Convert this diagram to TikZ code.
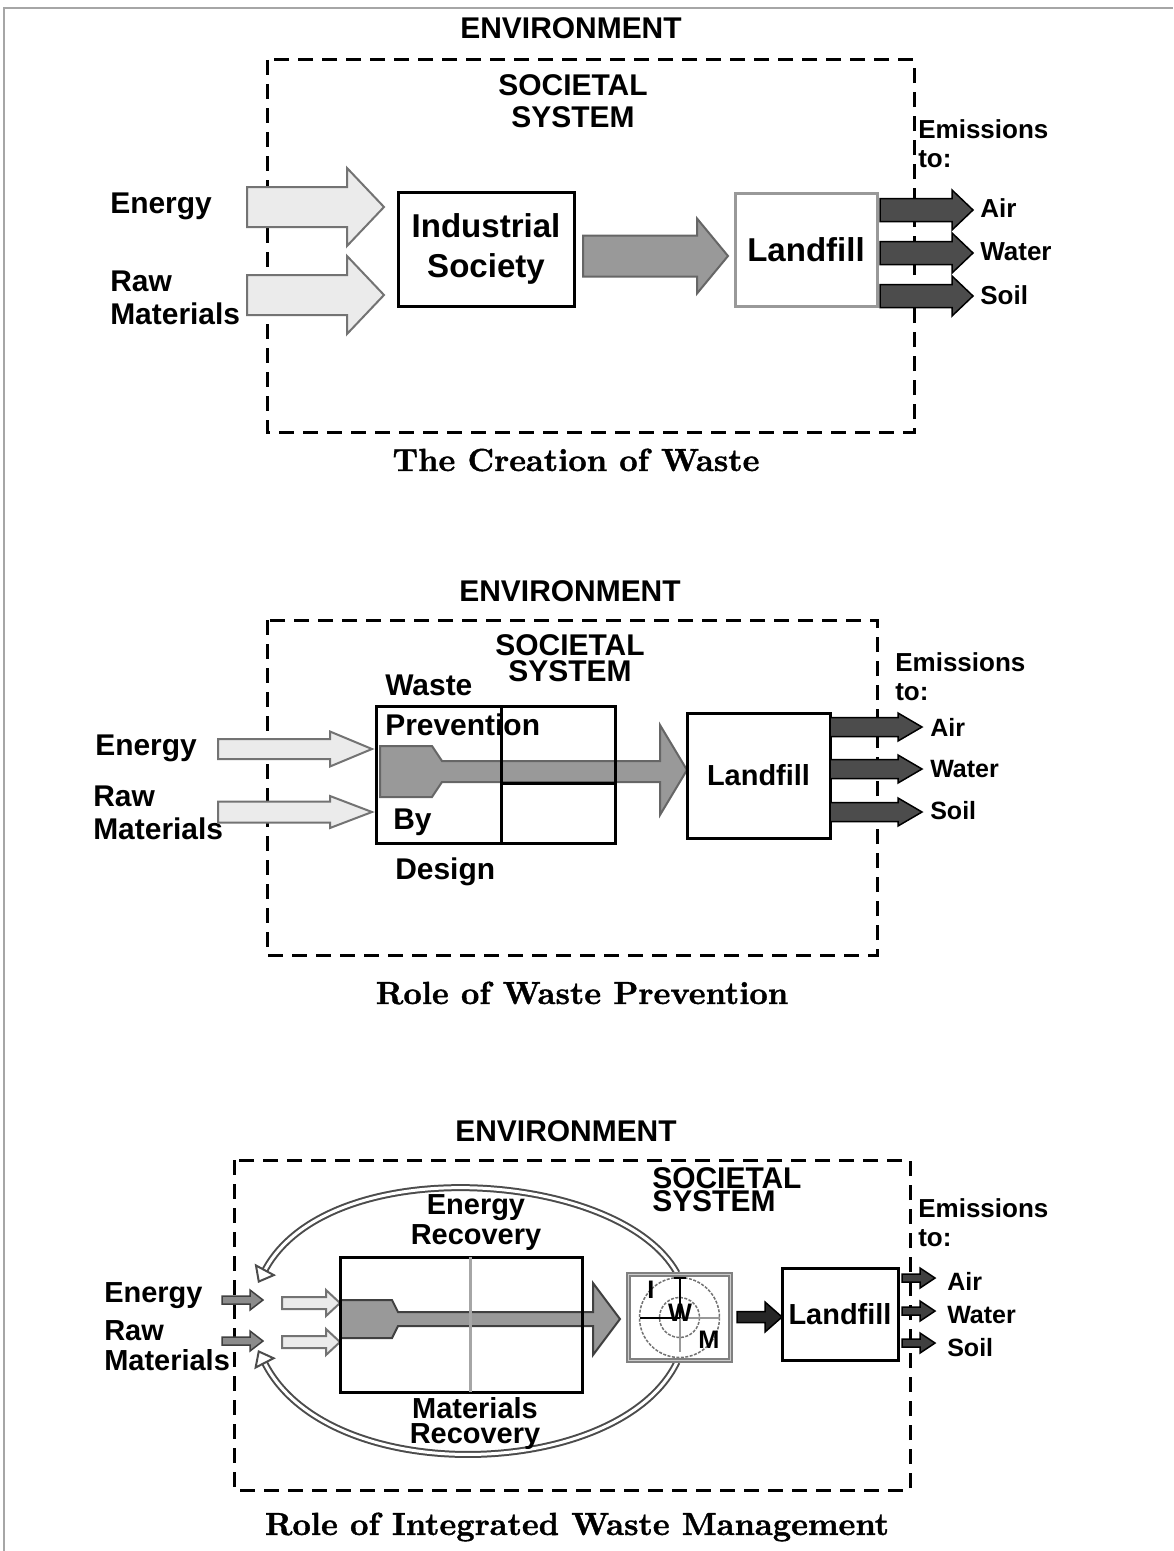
\documentclass[tikz,border=0pt]{standalone}
\usepackage{fontspec}
\usepackage{tikz}
\usetikzlibrary{arrows.meta, positioning, calc}
\newfontfamily\labelfont{Liberation Sans}
\newfontfamily\captionfont{lmroman10-bold.otf}[FakeBold=1.2]
\newdimen\px \px=0.025cm
% block arrow: [style]{x start}{x head base}{x tip}{y}{shaft half}{head half}
\newcommand{\blockarrow}[7][]{%
  \draw[#1] (#2,#5-#6) -- (#3,#5-#6) -- (#3,#5-#7) -- (#4,#5)
    -- (#3,#5+#7) -- (#3,#5+#6) -- (#2,#5+#6) -- cycle;}
\tikzset{
  ws label/.style={
    font=\labelfont\bfseries\fontsize{21.3}{23.5}\selectfont,
    inner sep=0pt, align=left
  },
  ws title/.style={
    ws label, align=center
  },
  ws emis/.style={
    font=\labelfont\bfseries\fontsize{18.5}{20.6}\selectfont,
    inner sep=0pt, align=left, anchor=west
  },
  ws caption/.style={
    font=\captionfont\fontsize{22.7}{26}\selectfont, inner sep=0pt
  },
  ws box/.style={
    rectangle, draw=black, line width=3\px, align=center, inner sep=0pt,
    font=\labelfont\bfseries\fontsize{20.6}{23}\selectfont
  },
  ws boundary/.style={
    line width=3\px, dash pattern=on 15\px off 9\px
  },
  light arrow/.style={fill=black!8, draw=black!55, line width=2\px},
  mid arrow/.style={fill=black!40, draw=black!60, line width=2\px},
  dark arrow/.style={fill=black!70, draw=black, line width=1.5\px},
  small arrow/.style={fill=black!45, draw=black!75, line width=1.5\px},
  recovery/.style={
    draw=black!70, line width=2\px, double=white, double distance=3\px,
    -{Triangle[open, length=11pt, width=17pt]}
  },
  frame line/.style={draw=black!35, line width=2\px}
}

\begin{document}
\begin{tikzpicture}[x=0.025cm, y=-0.025cm]
  \useasboundingbox (0,0) rectangle (1173,1551);
  \draw[frame line] (4,1551) -- (4,8) -- (1173,8);

  %% the creation of waste
  \node (env1) [ws title] at (571,28) {ENVIRONMENT};
  \draw[ws boundary] (267,60) rectangle (914,432);
  \node (soc1) [ws title, font=\labelfont\bfseries\fontsize{21.3}{22.8}\selectfont] at (573,101) {SOCIETAL\\SYSTEM};
  \node (energy1) [ws label, anchor=west] at (110,206) {Energy};
  \node (raw1) [ws label, anchor=west] at (110,297.5) {Raw\\Materials};
  \blockarrow[light arrow]{247}{347}{384}{207}{20}{39}
  \blockarrow[light arrow]{247}{347}{384}{295}{20}{39}
  \node (ind1) [ws box, minimum width=176\px, minimum height=114\px,
    font=\labelfont\bfseries\fontsize{23.5}{28.5}\selectfont] at (486,249) {Industrial\\Society};
  \blockarrow[mid arrow]{583}{697}{728}{256}{20.5}{37.5}
  \node (land1) [ws box, draw=black!40, minimum width=142\px, minimum height=113\px,
    font=\labelfont\bfseries\fontsize{23.5}{28}\selectfont] at (806,249.5) {Landfill};
  \foreach \yy in {210,253,296}
    \blockarrow[dark arrow]{880}{952}{973}{\yy}{11.5}{20};
  \node (emis1) [ws emis] at (918,143.5) {Emissions\\to:};
  \node (air1) [ws emis] at (980,208) {Air};
  \node (water1) [ws emis] at (980,252) {Water};
  \node (soil1) [ws emis] at (980,295) {Soil};
  \node (cap1) [ws caption] at (576,460) {The Creation of Waste};

  %% role of waste prevention
  \node (env2) [ws title] at (570,591) {ENVIRONMENT};
  \draw[ws boundary] (267,620) rectangle (877,955);
  \node (soc2) [ws title, font=\labelfont\bfseries\fontsize{21.3}{18.5}\selectfont] at (570,658) {SOCIETAL\\SYSTEM};
  \node (energy2) [ws label, anchor=west] at (95,748) {Energy};
  \node (raw2) [ws label, anchor=west] at (93,812.5) {Raw\\Materials};
  \blockarrow[light arrow]{218}{330}{372}{749}{10}{17.5}
  \blockarrow[light arrow]{218}{330}{372}{812}{10.5}{16}
  \draw[mid arrow] (380,746) -- (432,746) -- (442,761) -- (660,761) -- (660,725)
    -- (687,770) -- (660,815) -- (660,782) -- (442,782) -- (432,797) -- (380,797) -- cycle;
  \node (prev) [ws box, minimum width=239\px, minimum height=137\px] at (495.5,774.5) {};
  \draw[line width=3\px] (501,706) -- (501,843);
  \draw[line width=3\px] (501,783) -- (615,783);
  \node (waste2) [ws label, anchor=west] at (385,685) {Waste};
  \node (preven2) [ws label, anchor=west] at (385,725) {Prevention};
  \node (by2) [ws label, anchor=west] at (393,822) {By};
  \node (design2) [ws label, anchor=west] at (395,872) {Design};
  \node (land2) [ws box, minimum width=143\px, minimum height=125\px] at (758.5,775.5) {Landfill};
  \foreach \yy in {727,769,812}
    \blockarrow[dark arrow]{830}{898}{922}{\yy}{9.5}{14};
  \node (emis2) [ws emis] at (895,676.5) {Emissions\\to:};
  \node (air2) [ws emis, font=\labelfont\bfseries\fontsize{17.8}{20}\selectfont] at (930,727) {Air};
  \node (water2) [ws emis, font=\labelfont\bfseries\fontsize{17.8}{20}\selectfont] at (930,769) {Water};
  \node (soil2) [ws emis, font=\labelfont\bfseries\fontsize{17.8}{20}\selectfont] at (930,811) {Soil};
  \node (cap2) [ws caption] at (582,993) {Role of Waste Prevention};

  %% role of integrated waste management
  \node (env3) [ws title] at (566,1131) {ENVIRONMENT};
  \draw[ws boundary] (234,1160) rectangle (910,1490);
  \node (soc3) [ws label, anchor=west, font=\labelfont\bfseries\fontsize{21.3}{16.4}\selectfont] at (652,1189.5) {SOCIETAL\\SYSTEM};
  \draw[recovery] (677,1273) .. controls (620,1170) and (330,1150) .. (258,1283);
  \draw[recovery] (677,1362) .. controls (620,1480) and (330,1490) .. (258,1350);
  \node (erec3) [ws title, font=\labelfont\bfseries\fontsize{20.6}{21.3}\selectfont] at (476,1223) {Energy\\Recovery};
  \node (mrec3) [ws title, font=\labelfont\bfseries\fontsize{20.6}{17.8}\selectfont] at (475,1423.5) {Materials\\Recovery};
  \node (energy3) [ws label, anchor=west, font=\labelfont\bfseries\fontsize{20.6}{23}\selectfont] at (104,1296) {Energy};
  \node (raw3) [ws label, anchor=west, font=\labelfont\bfseries\fontsize{20.6}{21.3}\selectfont] at (104,1346) {Raw\\Materials};
  \blockarrow[small arrow]{222}{250}{263}{1300}{4}{10}
  \blockarrow[small arrow]{222}{250}{263}{1341}{4}{10}
  \blockarrow[light arrow]{282}{326}{340}{1303}{6}{13}
  \blockarrow[light arrow]{282}{326}{340}{1342}{6}{13}
  \draw[mid arrow, draw=black!75] (340,1300) -- (392,1300) -- (398,1312) -- (593,1312) -- (593,1283)
    -- (620,1319) -- (593,1355) -- (593,1326) -- (398,1326) -- (392,1338) -- (340,1338) -- cycle;
  \node (main3) [ws box, minimum width=242\px, minimum height=135\px] at (461,1324.5) {};
  \draw[black!35, line width=3\px] (470,1257) -- (470,1392);
  % integrated waste management symbol
  \node (iwm3) [ws box, fill=white, draw=black!50, double=black!20, double distance=1.5\px,
    line width=1.8\px, minimum width=102\px, minimum height=86\px] at (679.5,1317.5) {};
  \draw[black!55, line width=1.5\px, dash pattern=on 3\px off 1.5\px] (iwm3.center) circle[radius=40];
  \draw[black!55, line width=1.5\px, dash pattern=on 3\px off 1.5\px] (iwm3.center) circle[radius=20];
  \draw[black!40, line width=2\px] (iwm3.center) -- ++(0,34);
  \draw[black!40, line width=2\px] (iwm3.center) -- ++(40,0);
  \draw[line width=2\px] (iwm3.center) -- ++(0,-40) ++(-6,0) -- ++(12,0);
  \draw[line width=2\px] (iwm3.center) -- ++(-40,0);
  \node (i3) [ws label, font=\labelfont\bfseries\fontsize{18}{20}\selectfont] at (651,1290) {I};
  \node (w3) [ws label, font=\labelfont\bfseries\fontsize{18}{20}\selectfont] at (680,1313) {W};
  \node (m3) [ws label, font=\labelfont\bfseries\fontsize{18}{20}\selectfont] at (709,1340) {M};
  \blockarrow[dark arrow, fill=black!85]{737}{765}{782}{1317}{5.5}{15}
  \node (land3) [ws box, minimum width=116\px, minimum height=92\px] at (840,1314) {Landfill};
  \foreach \yy in {1278,1311,1343}
    \blockarrow[dark arrow, fill=black!75]{902}{920}{935}{\yy}{4}{10};
  \node (emis3) [ws emis] at (918,1223) {Emissions\\to:};
  \node (air3) [ws emis, font=\labelfont\bfseries\fontsize{17.8}{20}\selectfont] at (947,1281) {Air};
  \node (water3) [ws emis, font=\labelfont\bfseries\fontsize{17.8}{20}\selectfont] at (947,1315) {Water};
  \node (soil3) [ws emis, font=\labelfont\bfseries\fontsize{17.8}{20}\selectfont] at (947,1348) {Soil};
  \node (cap3) [ws caption] at (577,1527) {Role of Integrated Waste Management};
\end{tikzpicture}
\end{document}
